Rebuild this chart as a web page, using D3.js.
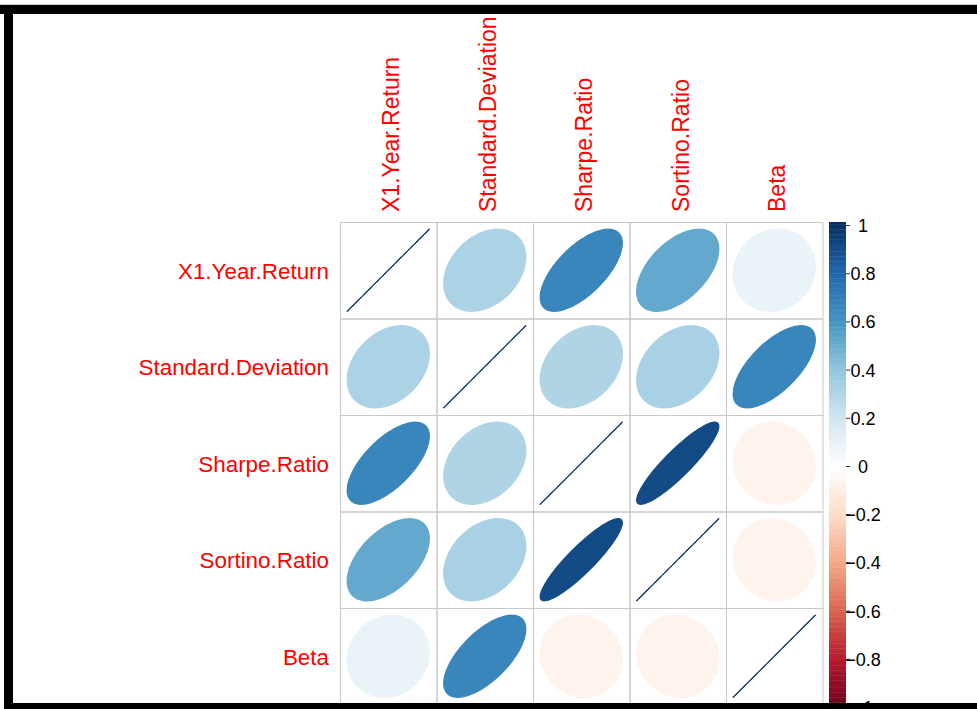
<!DOCTYPE html>
<html>
<head>
<meta charset="utf-8">
<script src="https://cdn.jsdelivr.net/npm/d3@7"></script>
<style>
  html, body { margin: 0; padding: 0; background: #ffffff; }
  svg { display: block; }
  text { font-family: "Liberation Sans", Arial, sans-serif; }
</style>
</head>
<body>
<svg id="chart" width="977" height="709"></svg>
<script>
// Variables of the correlation matrix (rows and columns share the same order)
const variables = ["X1.Year.Return", "Standard.Deviation", "Sharpe.Ratio", "Sortino.Ratio", "Beta"];

// Correlation coefficients, one row per variable
const rowX1YearReturn = [1.00, 0.32, 0.66, 0.52, 0.10];
const rowStandardDev  = [0.32, 1.00, 0.31, 0.33, 0.66];
const rowSharpeRatio  = [0.66, 0.31, 1.00, 0.90, -0.07];
const rowSortinoRatio = [0.52, 0.33, 0.90, 1.00, -0.07];
const rowBeta         = [0.10, 0.66, -0.07, -0.07, 1.00];
const corrRows = [rowX1YearReturn, rowStandardDev, rowSharpeRatio, rowSortinoRatio, rowBeta];

// Colour-legend tick values
const legendTicks = [1, 0.8, 0.6, 0.4, 0.2, 0, -0.2, -0.4, -0.6, -0.8, -1];

// Diverging palette stops (dark red -> white -> dark blue), 200 discrete colours
const paletteStops = ["#67001F", "#B2182B", "#D6604D", "#F4A582", "#FDDBC7", "#FFFFFF",
                      "#D1E5F0", "#92C5DE", "#4393C3", "#2166AC", "#053061"];
const nColors = 200;

const svg = d3.select("#chart");

const ramp = d3.scaleLinear()
  .domain(d3.range(paletteStops.length).map(i => i / (paletteStops.length - 1)))
  .range(paletteStops)
  .interpolate(d3.interpolateRgb);
const palette = d3.range(nColors).map(i => ramp(i / (nColors - 1)));
const colorOf = r => palette[Math.max(0, Math.min(nColors - 1, Math.round((r + 1) / 2 * (nColors - 1))))];

// Matrix layout
const gridLeft = 340, gridTop = 222, gridSize = 482.5;
const x = d3.scaleBand().domain(variables).range([gridLeft, gridLeft + gridSize]);
const y = d3.scaleBand().domain(variables).range([gridTop, gridTop + gridSize]);
const cell = x.bandwidth();

const cells = [];
corrRows.forEach((row, i) => row.forEach((r, j) => cells.push({ row: variables[i], col: variables[j], r })));

// Grid
svg.append("g").selectAll("rect").data(cells).join("rect")
  .attr("x", d => x(d.col) + 0.5)
  .attr("y", d => y(d.row) + 0.5)
  .attr("width", cell)
  .attr("height", cell)
  .attr("fill", "none")
  .attr("stroke", "#C8C8C8")
  .attr("stroke-width", 1);

// Ellipses: shape from the coefficient, 85% of the cell
const ellipsePath = (r) => {
  const d = Math.acos(Math.max(-1, Math.min(1, r)));
  const pts = d3.range(100).map(i => {
    const k = i / 99 * 2 * Math.PI;
    return [Math.cos(k + d / 2) / 2 * 0.85 * cell, -Math.cos(k - d / 2) / 2 * 0.85 * cell];
  });
  return d3.line()(pts) + "Z";
};

svg.append("g").selectAll("path").data(cells).join("path")
  .attr("transform", d => `translate(${x(d.col) + cell / 2},${y(d.row) + cell / 2})`)
  .attr("d", d => ellipsePath(d.r))
  .attr("fill", d => colorOf(d.r))
  .attr("stroke", d => colorOf(d.r))
  .attr("stroke-width", 1.3)
  .attr("stroke-linejoin", "round");

// Row labels
svg.append("g").selectAll("text").data(variables).join("text")
  .attr("x", gridLeft - 11)
  .attr("y", d => y(d) + cell / 2 + 8.5)
  .attr("text-anchor", "end")
  .attr("fill", "#FF0000")
  .attr("font-size", 22.4)
  .text(d => d);

// Column labels (vertical)
svg.append("g").selectAll("text").data(variables).join("text")
  .attr("transform", d => `translate(${x(d) + cell / 2 + 11},${gridTop - 10}) rotate(-90)`)
  .attr("text-anchor", "start")
  .attr("fill", "#FF0000")
  .attr("font-size", 23)
  .text(d => d);

// Colour legend
const barX = 829, barW = 17, barTop = 222, barBottom = 712;
const legendY = d3.scaleLinear().domain([1, -1]).range([225.5, 707.5]);
const barScale = d3.scaleLinear().domain([0, nColors]).range([barBottom, barTop]);
const legend = svg.append("g");
legend.selectAll("rect").data(palette).join("rect")
  .attr("x", barX)
  .attr("y", (c, i) => barScale(i + 1))
  .attr("width", barW)
  .attr("height", (c, i) => barScale(i) - barScale(i + 1) + 0.4)
  .attr("fill", c => c);

legend.selectAll("line").data(legendTicks).join("line")
  .attr("x1", barX + barW)
  .attr("x2", barX + barW + 4)
  .attr("y1", d => legendY(d))
  .attr("y2", d => legendY(d))
  .attr("stroke", "#333333")
  .attr("stroke-width", 1);

legend.selectAll("text").data(legendTicks).join("text")
  .attr("x", 863)
  .attr("y", d => legendY(d) + 6.5)
  .attr("text-anchor", "middle")
  .attr("fill", "#000000")
  .attr("font-size", 18)
  .text(d => d3.format("")(d));

// Frame around the figure
const frame = svg.append("g");
frame.append("rect").attr("x", 0).attr("y", 4).attr("width", 977).attr("height", 1).attr("fill", "#C8C8C8");
frame.append("rect").attr("x", 4).attr("y", 4).attr("width", 1).attr("height", 705).attr("fill", "#C8C8C8");
frame.append("rect").attr("x", 0).attr("y", 5).attr("width", 977).attr("height", 9).attr("fill", "#000000");
frame.append("rect").attr("x", 4).attr("y", 5).attr("width", 9).attr("height", 704).attr("fill", "#000000");
frame.append("rect").attr("x", 4).attr("y", 703).attr("width", 973).attr("height", 6).attr("fill", "#000000");
</script>
</body>
</html>
